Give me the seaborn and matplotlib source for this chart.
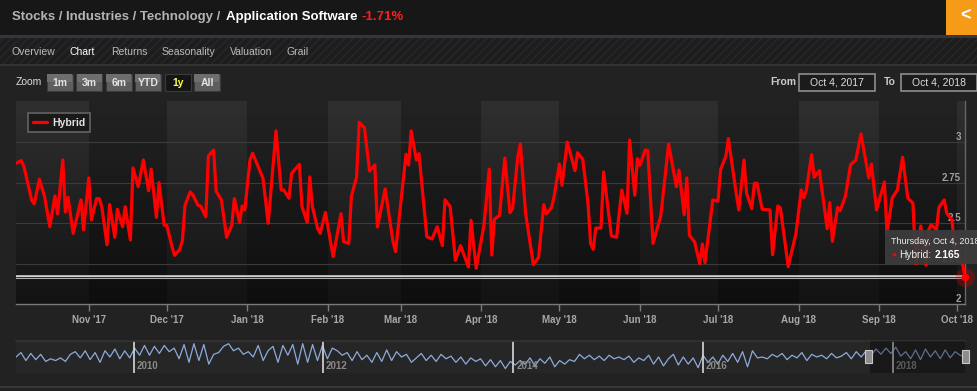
import numpy as np
import pandas as pd
import seaborn as sns
import matplotlib.pyplot as plt
import matplotlib.dates as mdates
from matplotlib.patches import Rectangle
from matplotlib.colors import LinearSegmentedColormap

# main series: Hybrid score, vertices (days after start, value)
start_date = "2017-10-04"
end_date = "2018-10-04"
day_offsets = [
    0, 2, 3, 6, 7, 9, 11, 13, 15, 16,
    18, 19, 20, 22, 25, 26, 28, 29, 31, 32,
    33, 35, 36, 38, 39, 41, 42, 44, 45, 47,
    49, 51, 52, 54, 55, 57, 58, 60, 61, 63,
    64, 65, 67, 68, 70, 71, 73, 74, 76, 77,
    79, 81, 83, 84, 86, 87, 88, 90, 91, 95,
    97, 100, 102, 103, 105, 106, 109, 110, 112, 113,
    114, 116, 117, 119, 122, 125, 126, 128, 129, 131,
    132, 134, 136, 138, 139, 142, 145, 146, 150, 151,
    152, 154, 155, 158, 160, 162, 164, 165, 167, 169,
    171, 174, 175, 177, 180, 182, 183, 184, 186, 188,
    190, 191, 193, 194, 196, 199, 201, 203, 204, 206,
    207, 209, 210, 212, 215, 216, 218, 220, 221, 222,
    223, 225, 226, 229, 231, 233, 235, 236, 238, 239,
    240, 242, 243, 245, 248, 251, 254, 255, 257, 258,
    259, 261, 263, 264, 265, 268, 270, 271, 273, 274,
    277, 278, 280, 281, 283, 284, 285, 287, 290, 291,
    293, 294, 297, 300, 302, 303, 304, 306, 307, 309,
    312, 313, 314, 316, 317, 319, 321, 323, 325, 328,
    329, 331, 334, 335, 337, 339, 341, 343, 345, 346,
    348, 350, 351, 352, 354, 355, 357, 358, 360, 361,
    364, 365,
]
hybrid = [
    2.871, 2.887, 2.854, 2.644, 2.619, 2.772, 2.664, 2.478, 2.668, 2.557,
    2.891, 2.569, 2.660, 2.437, 2.644, 2.458, 2.780, 2.520, 2.652, 2.652,
    2.602, 2.367, 2.615, 2.413, 2.586, 2.478, 2.602, 2.396, 2.842, 2.726,
    2.891, 2.701, 2.834, 2.536, 2.751, 2.487, 2.487, 2.355, 2.301, 2.338,
    2.392, 2.611, 2.693, 2.676, 2.611, 2.606, 2.540, 2.916, 2.953, 2.697,
    2.644, 2.413, 2.487, 2.652, 2.503, 2.606, 2.582, 2.891, 2.933, 2.778,
    2.499, 3.071, 2.705, 2.705, 2.654, 2.809, 2.864, 2.602, 2.505, 2.786,
    2.602, 2.468, 2.437, 2.567, 2.293, 2.559, 2.386, 2.375, 2.666, 2.786,
    3.124, 3.091, 2.823, 2.860, 2.476, 2.712, 2.386, 2.324, 2.926, 2.860,
    3.071, 2.891, 2.930, 2.417, 2.402, 2.478, 2.361, 2.645, 2.602, 2.270,
    2.361, 2.229, 2.518, 2.221, 2.489, 2.835, 2.303, 2.524, 2.549, 2.903,
    2.565, 2.590, 2.912, 2.990, 2.561, 2.243, 2.289, 2.615, 2.557, 2.598,
    2.668, 2.866, 2.734, 3.002, 2.825, 2.936, 2.895, 2.623, 2.375, 2.338,
    2.470, 2.470, 2.817, 2.421, 2.413, 2.705, 2.561, 3.015, 2.673, 2.899,
    2.858, 2.953, 2.949, 2.375, 2.545, 2.990, 2.726, 2.829, 2.553, 2.780,
    2.425, 2.384, 2.248, 2.371, 2.256, 2.644, 2.636, 2.834, 2.912, 3.023,
    2.685, 2.582, 2.891, 2.685, 2.590, 2.747, 2.747, 2.586, 2.582, 2.305,
    2.606, 2.594, 2.231, 2.437, 2.705, 2.656, 2.705, 2.924, 2.784, 2.825,
    2.466, 2.627, 2.388, 2.598, 2.577, 2.668, 2.862, 2.891, 3.052, 2.780,
    2.866, 2.582, 2.755, 2.437, 2.656, 2.705, 2.908, 2.656, 2.623, 2.250,
    2.483, 2.240, 2.458, 2.491, 2.458, 2.598, 2.644, 2.561, 2.520, 2.350,
    2.252, 2.165,
]
last_value = 2.165
y_ticks = [2, 2.25, 2.5, 2.75, 3]

# navigator series (10 years of history)
nav_start = "2008-10-06"
nav_values = [
    2.6, 2.85, 2.4, 2.8, 2.45, 2.75, 2.35, 2.5, 2.4, 2.55, 2.35, 2.75, 2.9, 2.55,
    2.95, 2.45, 2.85, 2.3, 2.95, 2.6, 3.05, 2.5, 2.95, 2.55, 3.1, 2.7, 3.25,
    2.7, 3.2, 2.8, 3.25, 2.9, 3.1, 2.5, 3.3, 2.3, 3.35, 2.4, 3.3, 2.2, 2.75,
    2.85, 3.2, 3.35, 2.95, 3.1, 2.75, 2.9, 2.6, 3.25, 2.4, 2.95, 3.2, 2.3, 3.25,
    2.7, 3.3, 2.2, 3.35, 2.3, 3.3, 2.4, 3.25, 2.5, 3.1,
    2.95, 2.7, 2.85, 2.4, 2.9, 2.45, 2.7, 2.3, 2.85, 2.35, 3.0, 2.4, 2.9, 2.6,
    2.75, 2.3, 2.55, 2.8, 2.4, 2.7, 2.35, 2.75, 2.5, 2.65, 2.3, 2.6, 2.2, 2.55,
    2.35, 2.5, 2.1, 2.45, 2.05, 2.4, 1.95, 2.35, 2.15, 2.4,
    2.2, 2.55, 2.1, 2.5, 2.25, 2.6, 2.05, 2.4, 2.2, 2.45, 2.35, 2.75, 2.5, 2.7,
    2.45, 2.65, 2.4, 2.7, 2.5, 2.6, 2.45, 2.65, 2.3, 2.55, 2.4, 2.7, 2.2, 2.6,
    2.1, 2.5, 2.75, 2.15, 2.6, 2.2, 2.55, 2.0, 2.7, 2.3,
    2.6, 2.2, 2.7, 2.35, 2.8, 2.3, 2.9, 2.05, 2.95, 2.55, 2.6, 2.5, 2.75, 2.6,
    2.8, 2.45, 2.7, 2.55, 2.85, 2.4, 2.75, 2.6, 2.7, 2.5, 2.8, 2.55, 2.65, 2.85,
    2.5, 2.9, 2.6, 2.95, 2.7, 3.05, 2.75, 3.1, 2.8, 3.15, 2.65, 2.9, 2.5, 3.0,
    2.45, 3.05, 2.6, 2.95, 2.5, 3.0, 2.55, 2.9, 2.7, 2.6,
]
nav_years = [2010, 2012, 2014, 2016, 2018]

tabs = ["Overview", "Chart", "Returns", "Seasonality", "Valuation", "Grail"]
zoom_buttons = ["1m", "3m", "6m", "YTD", "1y", "All"]

W, H = 978, 391


def fx(px):
    return px / W


def fy(py):
    return 1 - py / H


sns.set_theme(style="dark")
plt.rcParams["font.family"] = ["Liberation Sans", "DejaVu Sans"]
plt.rcParams["hatch.linewidth"] = 1.2

fig = plt.figure(figsize=(9.78, 3.91), dpi=100, facecolor="#222222")


def frect(x0, y0, x1, y1, **kw):
    r = Rectangle((fx(x0), fy(y1)), fx(x1) - fx(x0), fy(y0) - fy(y1),
                  transform=fig.transFigure, **kw)
    fig.patches.append(r)
    return r


# header / tabs / toolbar
frect(0, 0, 978, 35, facecolor="#171717", lw=0)
frect(0, 35, 978, 38, facecolor="#35343f", lw=0)
frect(0, 38, 978, 64, facecolor="#1d1d1d", edgecolor="#272727", hatch="////", lw=0)
frect(0, 64, 978, 66, facecolor="#333333", lw=0)
frect(946, 0, 978, 35, facecolor="#f59b17", lw=0)
frect(0, 386, 978, 388, facecolor="#383838", lw=0)

fig.text(fx(12.5), fy(17), "Stocks / Industries / Technology / ", color="#b4b4b4",
         fontsize=9.5, fontweight="bold", va="center")
fig.text(fx(226), fy(17), "Application Software", color="white",
         fontsize=9.5, fontweight="bold", va="center")
fig.text(fx(361), fy(17), "-1.71%", color="#ff1c1c",
         fontsize=9.5, fontweight="bold", va="center")
fig.text(fx(966), fy(16), "<", color="white", fontsize=13, fontweight="bold",
         ha="center", va="center")

tab_x = [12, 70, 111, 162, 230, 287]
for name, x in zip(tabs, tab_x):
    fig.text(fx(x), fy(52), name, color="white" if name == "Chart" else "#bcbcbc",
             fontsize=7.5, va="center")

fig.text(fx(16), fy(82), "Zoom", color="#dddddd", fontsize=7.5, va="center")
button_cx = [59.7, 89, 118.7, 148, 177.7, 207]
for name, cx in zip(zoom_buttons, button_cx):
    sel = name == "1y"
    frect(cx - 13, 73.5, cx + 13, 90.5, facecolor="#151515" if sel else "#5e5e5e",
          edgecolor="#3a3a3a", lw=0.8)
    if not sel:
        frect(cx - 12.5, 74, cx + 12.5, 81.5, facecolor="#6e6e6e", lw=0)
    fig.text(fx(cx), fy(82.5), name, color="#ffff40" if sel else "#e4e4e4",
             fontsize=7.5, fontweight="bold", ha="center", va="center")

fig.text(fx(770), fy(82), "From", color="#cccccc", fontsize=7.5, fontweight="bold", va="center")
fig.text(fx(884), fy(82), "To", color="#cccccc", fontsize=7.5, fontweight="bold", va="center")
for x0, x1, label in [(799, 875, "Oct 4, 2017"), (901, 977, "Oct 4, 2018")]:
    frect(x0, 73.5, x1, 90.5, facecolor="#1b1b1b", edgecolor="#8e8e8e", lw=1.2)
    fig.text(fx((x0 + x1) / 2), fy(82.5), label, color="#dddddd", fontsize=7.5,
             ha="center", va="center")

# main chart
rect = [fx(16), fy(304), fx(965) - fx(16), fy(101) - fy(304)]
ax_bg = fig.add_axes(rect, zorder=0)
ax_bg.imshow(np.linspace(1, 0, 256).reshape(-1, 1), aspect="auto", extent=[0, 1, 0, 1],
             cmap=LinearSegmentedColormap.from_list("bg", ["#131313", "#2f2f2f"]))
ax_bg.axis("off")

ax = fig.add_axes(rect, zorder=1)
ax.set_facecolor("none")

df = pd.DataFrame({
    "date": pd.Timestamp(start_date) + pd.to_timedelta(day_offsets, unit="D"),
    "hybrid": hybrid,
})

for m in pd.date_range("2017-11-01", "2018-09-01", freq="2MS"):
    ax.axvspan(m, m + pd.offsets.MonthBegin(1), color="black", alpha=0.25, lw=0, zorder=0)

sns.lineplot(data=df, x="date", y="hybrid", ax=ax, color="#ff0000", lw=2.3,
             label="Hybrid", zorder=3)

ax.axhline(last_value, color="#d2d2d2", lw=2.6, zorder=4)
ax.axhline(last_value, color="#2a2a2a", lw=0.7, zorder=4)
end_ts = pd.Timestamp(end_date)
ax.scatter([end_ts], [last_value], s=190, color="#ff0000", alpha=0.25, lw=0,
           zorder=5, clip_on=False)
ax.scatter([end_ts], [last_value], s=30, color="#ff0000", lw=0, zorder=6, clip_on=False)

ax.set_xlim(pd.Timestamp(start_date), end_ts)
ax.set_ylim(2, 3.256)
ax.set_xlabel("")
ax.set_ylabel("")
ax.set_yticks(y_ticks)
ax.set_yticklabels([f"{t:g}" for t in y_ticks], ha="right", va="bottom",
                   fontweight="bold")
ax.yaxis.tick_right()
ax.tick_params(axis="y", length=0, pad=-3, labelsize=7, labelcolor="#a0a0a0",
               right=False, labelright=True)
ax.grid(axis="y", color="#3b3b3b", lw=0.8)
ax.grid(axis="x", visible=False)

ax.xaxis.set_major_locator(mdates.MonthLocator())
ax.xaxis.set_major_formatter(mdates.DateFormatter("%b '%y"))
ax.tick_params(axis="x", bottom=True, direction="out", length=5, width=1,
               color="#7a7a7a", labelcolor="#a8a8a8", labelsize=7, pad=3)
for lbl in ax.get_xticklabels():
    lbl.set_fontweight("bold")

for side in ["top", "left"]:
    ax.spines[side].set_visible(False)
ax.spines["bottom"].set_color("#7a7a7a")
ax.spines["bottom"].set_linewidth(1)
ax.spines["right"].set_color("#666666")
ax.spines["right"].set_linewidth(1)

leg = ax.legend(loc="upper left", bbox_to_anchor=(fx(28), fy(113)),
                bbox_transform=fig.transFigure, frameon=True, fancybox=False,
                facecolor="#1a1a1a", edgecolor="#5a5a5a", framealpha=1,
                fontsize=7.5, handlelength=1.4, borderpad=0.45,
                handletextpad=0.45, borderaxespad=0)
leg.get_frame().set_linewidth(1.4)
for t in leg.get_texts():
    t.set_color("#e2e2e2")
    t.set_fontweight("bold")

# tooltip
frect(885, 230, 990, 264, facecolor="#3c3c3c", alpha=0.94, lw=0, zorder=10)
fig.text(fx(891), fy(241.5), "Thursday, Oct 4, 2018", color="#eeeeee", fontsize=6.5,
         va="center", zorder=11)
fig.text(fx(894), fy(255.5), "\u25cf", color="#ff0000", fontsize=6, ha="center",
         va="center", zorder=11)
fig.text(fx(899), fy(255.5), "Hybrid:", color="#eeeeee", fontsize=7.3,
         va="center", zorder=11)
fig.text(fx(935), fy(255.5), f"{last_value:.3f}", color="white", fontsize=7.3,
         fontweight="bold", va="center", zorder=11)

# navigator
nav = fig.add_axes([fx(16), fy(373), fx(965) - fx(16), fy(341) - fy(373)])
nav.set_facecolor("#262626")
nav_dates = pd.date_range(nav_start, end_date, periods=len(nav_values))
sns.lineplot(x=nav_dates, y=nav_values, ax=nav, color="#8cabdc", lw=0.9)
nav.set_xlim(pd.Timestamp(nav_start), end_ts)
nav.set_ylim(1.7, 3.5)
nav.set_xticks([])
nav.set_yticks([])
nav.set_xlabel("")
nav.set_ylabel("")
for side in ["left", "right", "bottom"]:
    nav.spines[side].set_visible(False)
nav.spines["top"].set_visible(True)
nav.spines["top"].set_color("#333333")
for yr in nav_years:
    d = pd.Timestamp(f"{yr}-01-01")
    nav.axvline(d, color="#d8d8d8", lw=1.2, zorder=2)
    nav.annotate(str(yr), xy=(d, 0), xycoords=("data", "axes fraction"),
                 xytext=(2, 1.5), textcoords="offset points", color="#8a8a8a",
                 fontsize=7, fontweight="bold", va="bottom")
nav.axvspan(pd.Timestamp(start_date), end_ts, color="black", alpha=0.35, lw=0, zorder=3)

for cx in [868.5, 965.5]:
    frect(cx - 3.5, 350, cx + 3.5, 363, facecolor="#8c8c8c", edgecolor="#c8c8c8",
          lw=0.8, zorder=5)

fig.savefig("out.png", dpi=100, facecolor=fig.get_facecolor())
